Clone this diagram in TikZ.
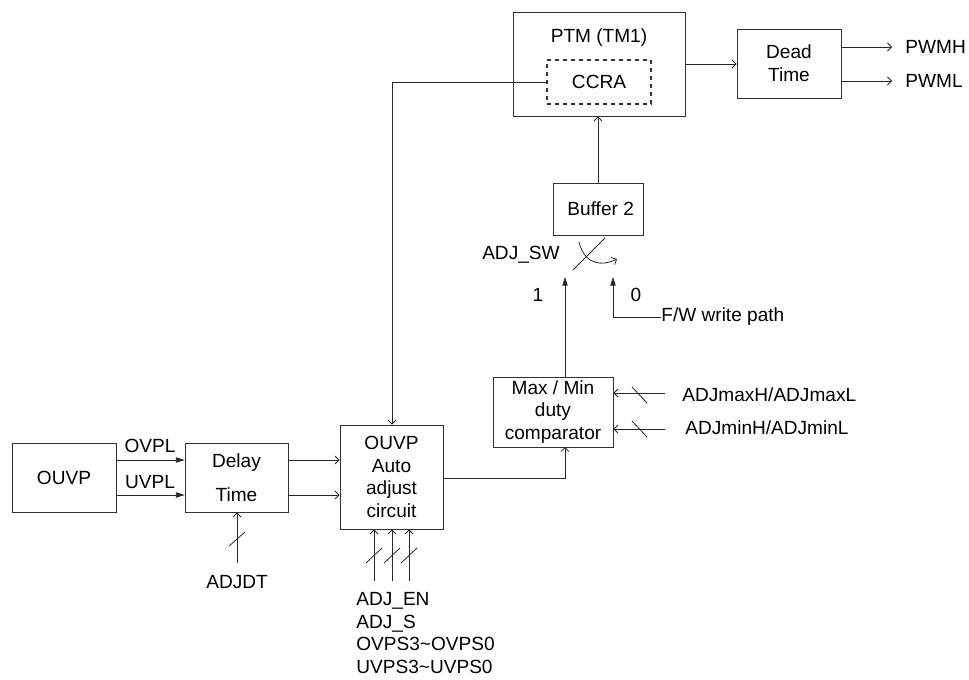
\documentclass[tikz,border=0pt]{standalone}
\usepackage{fontspec}
\setmainfont{Liberation Sans}
\usetikzlibrary{arrows.meta}

\begin{document}
\begin{tikzpicture}[x=0.75pt,y=-0.75pt,
  font=\fontsize{14.3pt}{17pt}\selectfont,
  line width=0.6pt, draw=black!85,
  blk/.style={draw=black!80, inner sep=0pt, align=center},
  txt/.style={inner sep=0pt},
  opn/.style={-{Straight Barb[length=3pt,width=6pt]}},
  fil/.style={-{Triangle[length=6.5pt,width=4pt]}}]
  \useasboundingbox (0,0) rectangle (969,679);
  % blocks
  \node[blk, minimum width=129pt, minimum height=78pt] (ptm) at (599,64) {};
  \node[txt] (ptmlbl) at (599,38) {PTM (TM1)};
  \node[blk, dashed, line width=1pt, minimum width=78pt, minimum height=33pt] (ccra) at (599,82) {CCRA};
  \node[blk, minimum width=78pt, minimum height=51.75pt] (dead) at (789,63.5) {Dead\\Time};
  \node[blk, minimum width=67.5pt, minimum height=39pt] (buf) at (598,209) {\hspace{4pt}Buffer 2};
  \node[blk, minimum width=90pt, minimum height=52.5pt] (cmp) at (553,412) {Max / Min\\duty\\comparator};
  \node[blk, minimum width=78pt, minimum height=51.75pt] (ouvp) at (64,477.5) {OUVP};
  \node[blk, minimum width=77.25pt, minimum height=51.75pt] (delay) at (236.5,477.5) {Delay\\[8.5pt]Time};
  \node[blk, minimum width=77.25pt, minimum height=78pt] (auto) at (391.5,477) {OUVP\\Auto\\adjust\\circuit};

  % outputs
  \draw[opn] (ptm.east |- 0,64) -- (dead.west |- 0,64);
  \node[txt, anchor=west] (pwmh) at (905,47) {PWMH};
  \node[txt, anchor=west] (pwml) at (905,81) {PWML};
  \draw[opn] (dead.east |- pwmh) -- (892,47);
  \draw[opn] (dead.east |- pwml) -- (892,81);

  % feedback from CCRA
  \coordinate (fb) at (392,82);
  \draw[opn] (ccra.west) -- (fb) -- (fb |- auto.north);
  \draw[opn] (buf.north) -- (buf.north |- ptm.south);

  % switch
  \draw (573,270) -- (605,238);
  \draw[opn] (579,242) .. controls (585,266) and (603,266) .. (617,259);
  \node[txt, anchor=east] (swlbl) at (560,255) {ADJ\_SW};
  \node[txt] (one) at (538,295) {1};
  \node[txt] (zero) at (636,295) {0};
  \coordinate (sw1) at (565,277);
  \coordinate (sw0) at (613,277);
  \draw[fil] (cmp.north -| sw1) -- (sw1);
  \node[txt, anchor=west] (fw) at (661,317) {F/W write path};
  \draw[fil] (fw.west) -- (sw0 |- fw.west) -- (sw0);

  % comparator limits
  \node[txt, anchor=west] (maxl) at (682,395) {ADJmaxH/ADJmaxL};
  \node[txt, anchor=west] (minl) at (685,428) {ADJminH/ADJminL};
  \draw[opn] (665,393) -- (cmp.east |- 0,393);
  \draw[opn] (665,429) -- (cmp.east |- 0,429);
  \draw (632,387) -- (647,403);
  \draw (632,421) -- (647,437);
  \draw[opn] (auto.east |- 0,478) -- (565,478) -- (565,447);

  % left chain
  \draw[fil] (ouvp.east |- 0,460) -- (delay.west |- 0,460);
  \draw[fil] (ouvp.east |- 0,495) -- (delay.west |- 0,495);
  \node[txt] (ovpl) at (150,446) {OVPL};
  \node[txt] (uvpl) at (150,482) {UVPL};
  \draw[opn] (delay.east |- 0,460) -- (auto.west |- 0,460);
  \draw[opn] (delay.east |- 0,495) -- (auto.west |- 0,495);

  % delay setting
  \coordinate (dt) at (237,563);
  \draw[opn] (dt) -- (delay.south -| dt);
  \draw (229,546) -- (245,532);
  \node[txt] (adjdt) at (237,582) {ADJDT};

  % auto adjust settings
  \foreach \i/\x in {1/374,2/392,3/409} {
    \coordinate (in\i) at (\x,581);
    \draw[opn] (in\i) -- (in\i |- auto.south);
    \draw (\x-8,563) -- (\x+8,548);
  }
  \node[txt, anchor=north west, align=left, inner sep=0pt] (sel) at (356,592)
    {ADJ\_EN\\ADJ\_S\\OVPS3\char`~OVPS0\\UVPS3\char`~UVPS0};
\end{tikzpicture}
\end{document}
